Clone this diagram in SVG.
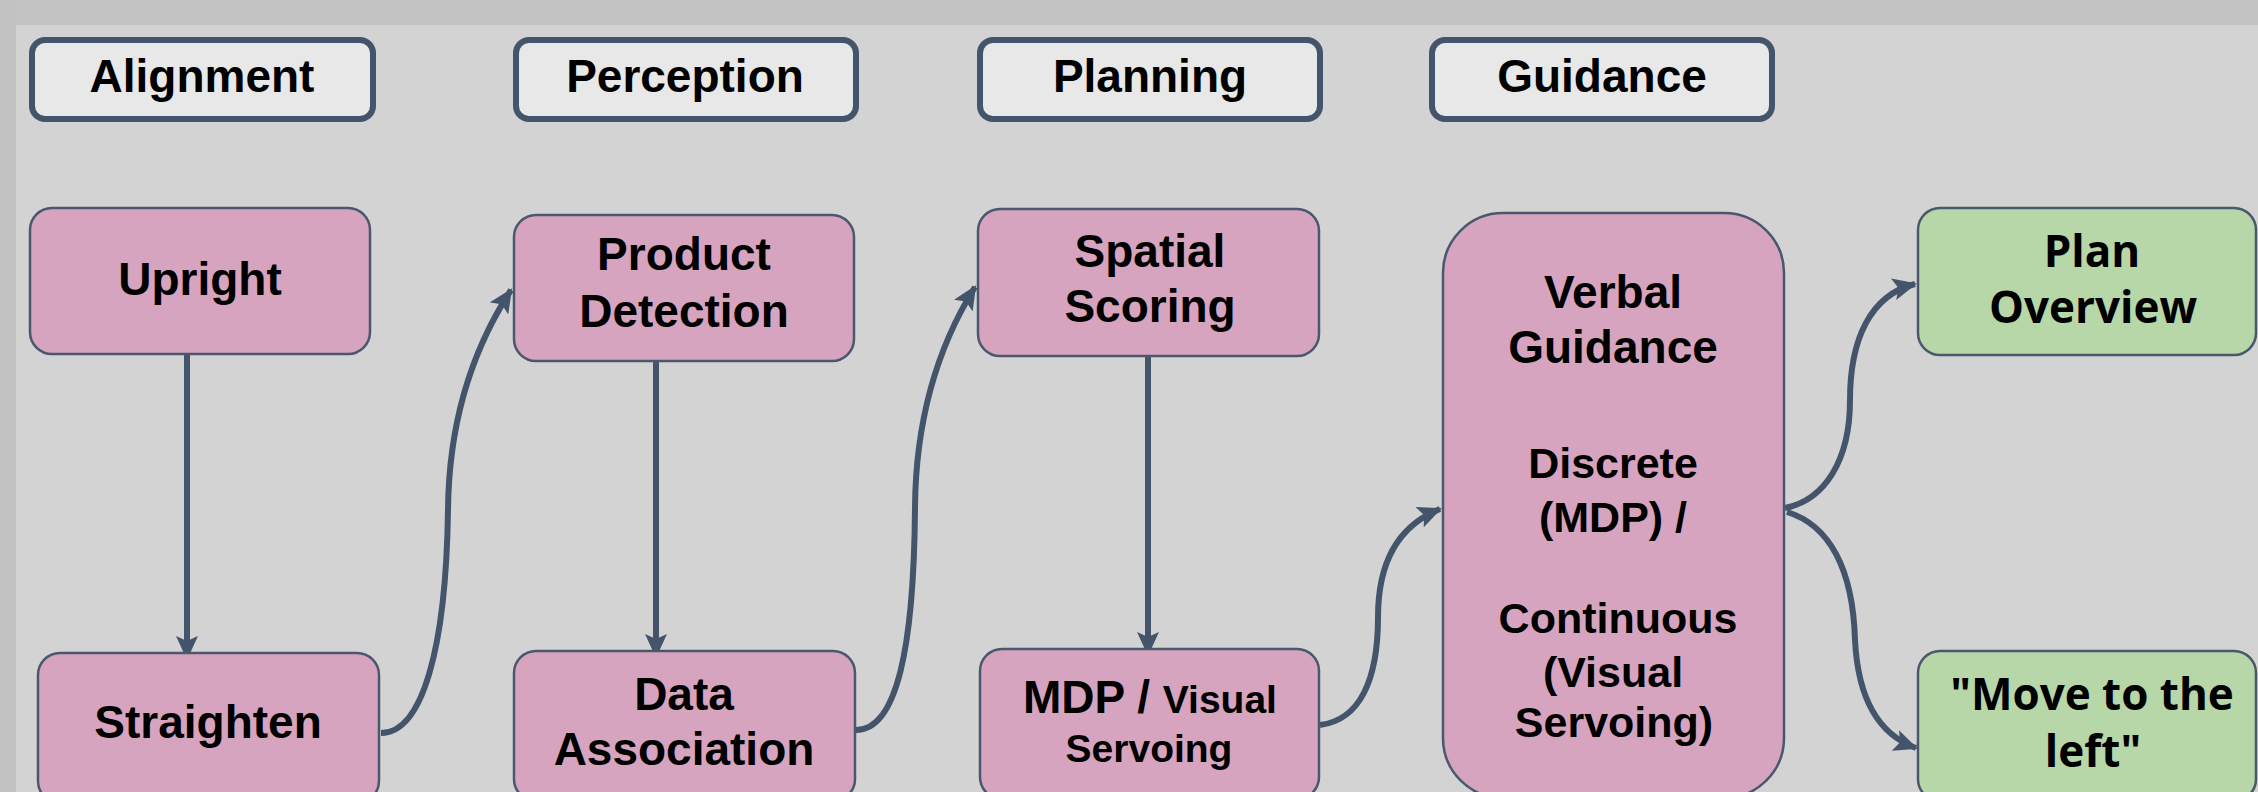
<svg xmlns="http://www.w3.org/2000/svg" width="2258" height="792" viewBox="0 0 2258 792">
<defs>
<style>
.hdr{fill:#e8e8e8;stroke:#44546a;stroke-width:6}
.pk{fill:#d7a4bf;stroke:#4a586e;stroke-width:2.5}
.gr{fill:#b7d7a8;stroke:#4a586e;stroke-width:2.5}
.t{font-family:"Liberation Sans",Arial,sans-serif;font-weight:bold;font-size:46px;fill:#000;text-anchor:middle}
.t43{font-size:43px}
.g{font-family:"Open Sans","Noto Sans",sans-serif;font-weight:bold;font-size:44px;fill:#000;text-anchor:middle}
.c{fill:none;stroke:#44546a;stroke-width:6;marker-end:url(#ah)}
</style>
<marker id="ah" viewBox="0 0 24 22" refX="22" refY="11" markerWidth="24" markerHeight="22" markerUnits="userSpaceOnUse" orient="auto">
<path d="M0,0 L24,11 L0,22 L5,11 Z" fill="#44546a"/>
</marker>
</defs>
<rect x="0" y="0" width="2258" height="792" fill="#d3d3d3"/>
<rect x="0" y="0" width="2258" height="25" fill="#c3c3c3"/>
<rect x="0" y="0" width="16" height="792" fill="#c2c2c2"/>

<g id="connectors">
<path class="c" d="M187,355 L187,658"/>
<path class="c" d="M656,361 L656,656"/>
<path class="c" d="M1148,350 L1148,654"/>
<path class="c" d="M381,733 C422,733 446,650 448,510 C449,400 485,330 511,290"/>
<path class="c" d="M856,730 C897,730 914,647 915,507 C916,397 950,327 975,287"/>
<path class="c" d="M1320,725 C1360,720 1378,680 1378,617 C1378,560 1400,525 1440,509"/>
<path class="c" d="M1785,508 C1825,500 1850,460 1850,400 C1850,340 1870,295 1915,284"/>
<path class="c" d="M1787,512 C1830,525 1853,570 1855,640 C1858,700 1880,735 1916,748"/>
</g>

<g id="h-alignment"><rect class="hdr" x="32" y="40" width="341" height="79" rx="13"/><text class="t" x="202" y="92">Alignment</text></g>
<g id="h-perception"><rect class="hdr" x="516" y="40" width="340" height="79" rx="13"/><text class="t" x="685" y="92">Perception</text></g>
<g id="h-planning"><rect class="hdr" x="980" y="40" width="340" height="79" rx="13"/><text class="t" x="1150" y="92">Planning</text></g>
<g id="h-guidance"><rect class="hdr" x="1432" y="40" width="340" height="79" rx="13"/><text class="t" x="1602" y="92">Guidance</text></g>

<g id="n-upright"><rect class="pk" x="30" y="208" width="340" height="146" rx="22"/><text class="t" x="200" y="295">Upright</text></g>
<g id="n-product"><rect class="pk" x="514" y="215" width="340" height="146" rx="22"/><text class="t" x="684" y="270">Product</text><text class="t" x="684" y="327">Detection</text></g>
<g id="n-spatial"><rect class="pk" x="978" y="209" width="341" height="147" rx="22"/><text class="t" x="1150" y="267">Spatial</text><text class="t" x="1150" y="322">Scoring</text></g>
<g id="n-straighten"><rect class="pk" x="38" y="653" width="341" height="150" rx="22"/><text class="t" x="208" y="738">Straighten</text></g>
<g id="n-data"><rect class="pk" x="514" y="651" width="341" height="150" rx="22"/><text class="t" x="684" y="710">Data</text><text class="t" x="684" y="765">Association</text></g>
<g id="n-mdp"><rect class="pk" x="980" y="649" width="339" height="150" rx="22"/><text class="t" x="1150" y="713">MDP / <tspan style="font-size:39px">Visual</tspan></text><text class="t" x="1149" y="762" style="font-size:39px">Servoing</text></g>
<g id="n-verbal"><rect class="pk" x="1443" y="213" width="341" height="585" rx="60"/>
<text class="t" x="1613" y="308">Verbal</text><text class="t" x="1613" y="363">Guidance</text>
<text class="t t43" x="1613" y="478">Discrete</text><text class="t t43" x="1613" y="532">(MDP) /</text>
<text class="t t43" x="1618" y="633">Continuous</text><text class="t t43" x="1613" y="687">(Visual</text><text class="t t43" x="1614" y="737">Servoing)</text></g>
<g id="n-plan"><rect class="gr" x="1918" y="208" width="338" height="147" rx="22"/><text class="g" x="2092" y="267">Plan</text><text class="g" x="2093" y="323">Overview</text></g>
<g id="n-move"><rect class="gr" x="1918" y="651" width="338" height="150" rx="22"/><text class="g" x="2092" y="710">"Move to the</text><text class="g" x="2093" y="767">left"</text></g>
</svg>
